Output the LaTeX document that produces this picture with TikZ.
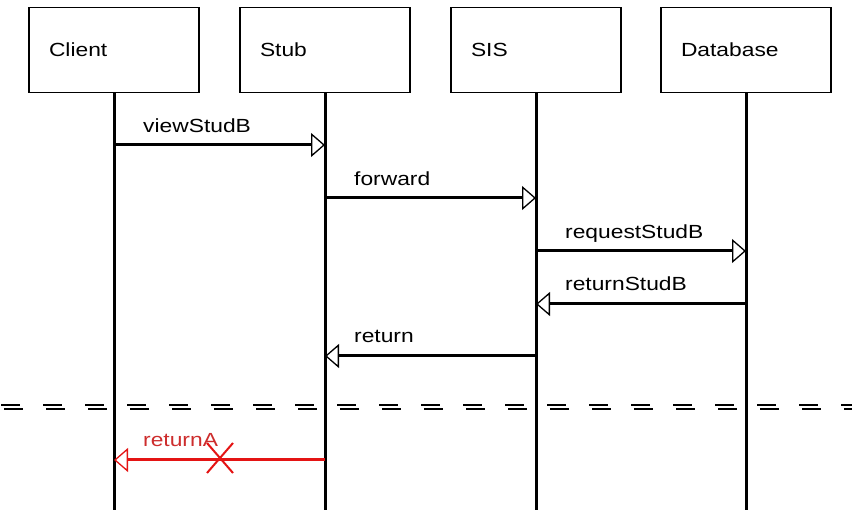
\documentclass[tikz,border=0pt]{standalone}
\usepackage{fontspec}
\setmainfont[FakeStretch=1.2]{Liberation Sans}
\usetikzlibrary{arrows.meta}
\definecolor{lostred}{RGB}{228,20,20}
\definecolor{losttext}{RGB}{205,45,45}
\begin{document}
\begin{tikzpicture}[x=1pt,y=-1pt,
  obj/.style={draw, line width=1.2pt, minimum width=170pt, minimum height=85pt,
    text width=130pt, inner xsep=20pt, inner ysep=0pt, align=left, anchor=north,
    font=\fontsize{19}{22}\selectfont},
  life/.style={line width=3pt},
  msg/.style={line width=3pt, -{Triangle[open, width=24pt 0, length=14pt 0, line width=1.3pt]}},
  lbl/.style={anchor=base west, inner sep=0pt, font=\fontsize{19}{22}\selectfont},
  sep/.style={line width=2pt, dash pattern=on 19pt off 23pt}]
\useasboundingbox (0,0) rectangle (852,510);
% objects
\node[obj] (client) at (114,7) {Client};
\node[obj] (stub) at (325,7) {Stub};
\node[obj] (sis) at (536,7) {SIS};
\node[obj] (db) at (746,7) {Database};
% lifelines
\coordinate (bot) at (0,510);
\draw[life] (client.south) -- (client.south |- bot);
\draw[life] (stub.south) -- (stub.south |- bot);
\draw[life] (sis.south) -- (sis.south |- bot);
\draw[life] (db.south) -- (db.south |- bot);
% message levels
\coordinate (y1) at (0,145);
\coordinate (y2) at (0,198);
\coordinate (y3) at (0,251);
\coordinate (y4) at (0,304);
\coordinate (y5) at (0,356);
\coordinate (y6) at (0,460);
% messages
\draw[msg] (client.south |- y1) -- (stub.south |- y1);
\path (client.south |- y1) ++(29,-12) node[lbl] {viewStudB};
\draw[msg] (stub.south |- y2) -- (sis.south |- y2);
\path (stub.south |- y2) ++(29,-12) node[lbl] {forward};
\draw[msg] (sis.south |- y3) -- (db.south |- y3);
\path (sis.south |- y3) ++(29,-12) node[lbl] {requestStudB};
\draw[msg] (db.south |- y4) -- (sis.south |- y4);
\path (sis.south |- y4) ++(29,-13) node[lbl] {returnStudB};
\draw[msg] (sis.south |- y5) -- (stub.south |- y5);
\path (stub.south |- y5) ++(29,-13) node[lbl] {return};
% separator
\draw[sep, dash phase=41pt] (0,405) -- (852,405);
\draw[sep, dash phase=38pt] (0,409) -- (852,409);
% lost message
\draw[msg, draw=lostred] (stub.south |- y6) -- (client.south |- y6);
\path (client.south |- y6) ++(29,-13) node[lbl, text=losttext] {returnA};
\coordinate (xc) at (220,458);
\draw[lostred, line width=2pt] (xc) ++(-13,-15) -- ++(26,30);
\draw[lostred, line width=2pt] (xc) ++(-13,15) -- ++(26,-30);
\end{tikzpicture}
\end{document}
